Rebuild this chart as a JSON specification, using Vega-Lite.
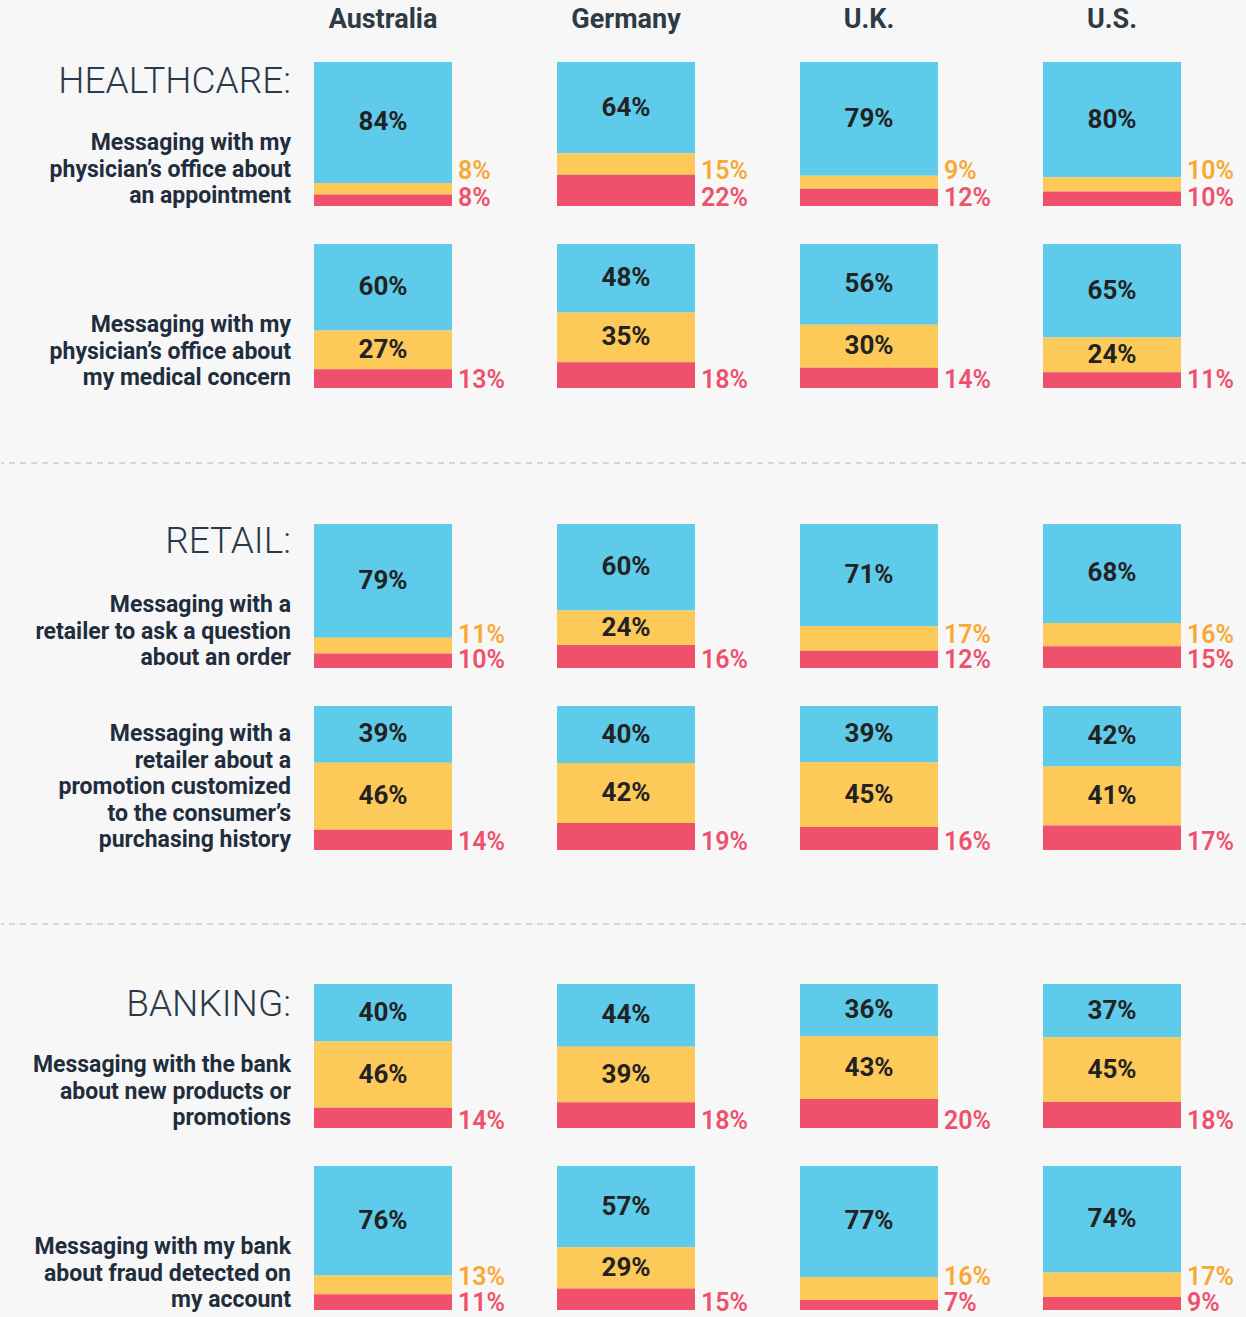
{
  "$schema": "https://vega.github.io/schema/vega-lite/v6.json",
  "background": "#f7f7f7",
  "padding": {"top": 6, "left": 0, "right": 0, "bottom": 0},
  "autosize": {"type": "pad"},
  "config": {"view": {"stroke": null}, "font": "Roboto"},
  "datasets": {
    "questions": [
      {"q": "q1", "category": "HEALTHCARE:", "label": "Messaging with my\nphysician’s office about\nan appointment"},
      {"q": "q2", "category": "", "label": "Messaging with my\nphysician’s office about\nmy medical concern"},
      {"q": "q3", "category": "RETAIL:", "label": "Messaging with a\nretailer to ask a question\nabout an order"},
      {"q": "q4", "category": "", "label": "Messaging with a\nretailer about a\npromotion customized\nto the consumer’s\npurchasing history"},
      {"q": "q5", "category": "BANKING:", "label": "Messaging with the bank\nabout new products or\npromotions"},
      {"q": "q6", "category": "", "label": "Messaging with my bank\nabout fraud detected on\nmy account"}
    ],
    "separator": [{"section_break": 0}],
    "survey": [
      {"q": "q1", "country": "Australia", "Likely": 0.84, "Neutral": 0.08, "Unlikely": 0.08},
      {"q": "q1", "country": "Germany", "Likely": 0.64, "Neutral": 0.15, "Unlikely": 0.22},
      {"q": "q1", "country": "U.K.", "Likely": 0.79, "Neutral": 0.09, "Unlikely": 0.12},
      {"q": "q1", "country": "U.S.", "Likely": 0.80, "Neutral": 0.10, "Unlikely": 0.10},
      {"q": "q2", "country": "Australia", "Likely": 0.60, "Neutral": 0.27, "Unlikely": 0.13},
      {"q": "q2", "country": "Germany", "Likely": 0.48, "Neutral": 0.35, "Unlikely": 0.18},
      {"q": "q2", "country": "U.K.", "Likely": 0.56, "Neutral": 0.30, "Unlikely": 0.14},
      {"q": "q2", "country": "U.S.", "Likely": 0.65, "Neutral": 0.24, "Unlikely": 0.11},
      {"q": "q3", "country": "Australia", "Likely": 0.79, "Neutral": 0.11, "Unlikely": 0.10},
      {"q": "q3", "country": "Germany", "Likely": 0.60, "Neutral": 0.24, "Unlikely": 0.16},
      {"q": "q3", "country": "U.K.", "Likely": 0.71, "Neutral": 0.17, "Unlikely": 0.12},
      {"q": "q3", "country": "U.S.", "Likely": 0.68, "Neutral": 0.16, "Unlikely": 0.15},
      {"q": "q4", "country": "Australia", "Likely": 0.39, "Neutral": 0.46, "Unlikely": 0.14},
      {"q": "q4", "country": "Germany", "Likely": 0.40, "Neutral": 0.42, "Unlikely": 0.19},
      {"q": "q4", "country": "U.K.", "Likely": 0.39, "Neutral": 0.45, "Unlikely": 0.16},
      {"q": "q4", "country": "U.S.", "Likely": 0.42, "Neutral": 0.41, "Unlikely": 0.17},
      {"q": "q5", "country": "Australia", "Likely": 0.40, "Neutral": 0.46, "Unlikely": 0.14},
      {"q": "q5", "country": "Germany", "Likely": 0.44, "Neutral": 0.39, "Unlikely": 0.18},
      {"q": "q5", "country": "U.K.", "Likely": 0.36, "Neutral": 0.43, "Unlikely": 0.20},
      {"q": "q5", "country": "U.S.", "Likely": 0.37, "Neutral": 0.45, "Unlikely": 0.18},
      {"q": "q6", "country": "Australia", "Likely": 0.76, "Neutral": 0.13, "Unlikely": 0.11},
      {"q": "q6", "country": "Germany", "Likely": 0.57, "Neutral": 0.29, "Unlikely": 0.15},
      {"q": "q6", "country": "U.K.", "Likely": 0.77, "Neutral": 0.16, "Unlikely": 0.07},
      {"q": "q6", "country": "U.S.", "Likely": 0.74, "Neutral": 0.17, "Unlikely": 0.09}
    ]
  },
  "spacing": 59,
  "bounds": "full",
  "vconcat": [
    {
      "data": {"name": "survey"},
      "transform": [
        {"filter": {"field": "q", "oneOf": ["q1", "q2"]}},
        {"fold": ["Likely", "Neutral", "Unlikely"], "as": ["segment", "pct"]},
        {"lookup": "q", "from": {"data": {"name": "questions"}, "key": "q", "fields": ["category", "label"]}}
      ],
      "facet": {"row": {"field": "q", "type": "nominal", "header": null}},
      "spacing": 38,
      "bounds": "flush",
      "spec": {
        "width": 1246,
        "height": 144,
        "encoding": {
          "x": {"field": "country", "type": "nominal", "sort": ["Australia", "Germany", "U.K.", "U.S."], "axis": null,
                "scale": {"type": "band", "paddingInner": 0.432, "paddingOuter": 0, "range": [313, 1180]}}
        },
        "layer": [
          {
            "mark": {"type": "bar"},
            "encoding": {
              "y": {"field": "pct", "type": "quantitative", "stack": "normalize", "axis": null, "scale": {"domain": [0, 1], "nice": false}},
              "color": {"field": "segment", "type": "nominal", "legend": null, "scale": {"domain": ["Likely", "Neutral", "Unlikely"], "range": ["#5ecbea", "#fdc959", "#ef506b"]}},
              "order": {"field": "segment", "sort": "descending"}
            }
          },
          {
            "mark": {"type": "text", "fontSize": 26, "fontWeight": "bold", "color": "#222222", "baseline": "middle"},
            "encoding": {
              "y": {"field": "pct", "type": "quantitative", "stack": "normalize", "bandPosition": 0.5},
              "detail": {"field": "segment"},
              "order": {"field": "segment", "sort": "descending"},
              "text": {"field": "pct", "type": "quantitative", "format": ".0%", "condition": {"test": "datum.segment === 'Unlikely' || (datum.segment === 'Neutral' && datum.pct < 0.2)", "value": ""}}
            }
          },
          {
            "transform": [{"filter": "datum.segment === 'Unlikely'"}],
            "mark": {"type": "text", "fontSize": 25, "fontWeight": 600, "color": "#ef506b", "align": "left", "baseline": "middle", "dx": 6, "dy": -8},
            "encoding": {
              "x": {"field": "country", "type": "nominal", "bandPosition": 1},
              "y": {"datum": 0, "type": "quantitative"},
              "text": {"field": "pct", "type": "quantitative", "format": ".0%"}
            }
          },
          {
            "transform": [{"filter": "datum.segment === 'Neutral' && datum.pct < 0.2"}],
            "mark": {"type": "text", "fontSize": 25, "fontWeight": 600, "color": "#f9a833", "align": "left", "baseline": "middle", "dx": 6, "dy": -35},
            "encoding": {
              "x": {"field": "country", "type": "nominal", "bandPosition": 1},
              "y": {"datum": 0, "type": "quantitative"},
              "text": {"field": "pct", "type": "quantitative", "format": ".0%"}
            }
          },
          {
            "transform": [{"filter": "datum.country === 'Australia' && datum.segment === 'Likely'"}],
            "mark": {"type": "text", "fontSize": 23, "fontWeight": "bold", "color": "#1f2d3d", "align": "right", "baseline": "bottom", "lineBreak": "\n", "lineHeight": 26.5, "dx": -23, "dy": -51},
            "encoding": {
              "x": {"field": "country", "type": "nominal", "bandPosition": 0},
              "y": {"datum": 0, "type": "quantitative"},
              "text": {"field": "label", "type": "nominal"}
            }
          },
          {
            "transform": [{"filter": "datum.country === 'Australia' && datum.segment === 'Likely' && datum.category !== ''"}],
            "mark": {"type": "text", "fontSize": 37, "fontWeight": 300, "color": "#2b3a4a", "align": "right", "baseline": "alphabetic", "dx": -23, "dy": 31},
            "encoding": {
              "x": {"field": "country", "type": "nominal", "bandPosition": 0},
              "y": {"datum": 1, "type": "quantitative"},
              "text": {"field": "category", "type": "nominal"}
            }
          },
          {
            "transform": [{"filter": "datum.q === 'q1' && datum.segment === 'Likely'"}],
            "mark": {"type": "text", "fontSize": 27, "fontWeight": "bold", "color": "#2e3a44", "align": "center", "baseline": "alphabetic", "dy": -34},
            "encoding": {
              "x": {"field": "country", "type": "nominal", "bandPosition": 0.5},
              "y": {"datum": 1, "type": "quantitative"},
              "text": {"field": "country", "type": "nominal"}
            }
          }
        ]
      }
    },
    {
      "data": {"name": "separator"},
      "width": 1246,
      "height": 10,
      "mark": {"type": "rule", "strokeDash": [6, 5], "color": "#d6d6d6", "strokeWidth": 2},
      "encoding": {
        "y": {"field": "section_break", "type": "quantitative", "scale": {"domain": [0, 1]}, "axis": null}
      }
    },
    {
      "data": {"name": "survey"},
      "transform": [
        {"filter": {"field": "q", "oneOf": ["q3", "q4"]}},
        {"fold": ["Likely", "Neutral", "Unlikely"], "as": ["segment", "pct"]},
        {"lookup": "q", "from": {"data": {"name": "questions"}, "key": "q", "fields": ["category", "label"]}}
      ],
      "facet": {"row": {"field": "q", "type": "nominal", "header": null}},
      "spacing": 38,
      "bounds": "flush",
      "spec": {
        "width": 1246,
        "height": 144,
        "encoding": {
          "x": {"field": "country", "type": "nominal", "sort": ["Australia", "Germany", "U.K.", "U.S."], "axis": null,
                "scale": {"type": "band", "paddingInner": 0.432, "paddingOuter": 0, "range": [313, 1180]}}
        },
        "layer": [
          {
            "mark": {"type": "bar"},
            "encoding": {
              "y": {"field": "pct", "type": "quantitative", "stack": "normalize", "axis": null, "scale": {"domain": [0, 1], "nice": false}},
              "color": {"field": "segment", "type": "nominal", "legend": null, "scale": {"domain": ["Likely", "Neutral", "Unlikely"], "range": ["#5ecbea", "#fdc959", "#ef506b"]}},
              "order": {"field": "segment", "sort": "descending"}
            }
          },
          {
            "mark": {"type": "text", "fontSize": 26, "fontWeight": "bold", "color": "#222222", "baseline": "middle"},
            "encoding": {
              "y": {"field": "pct", "type": "quantitative", "stack": "normalize", "bandPosition": 0.5},
              "detail": {"field": "segment"},
              "order": {"field": "segment", "sort": "descending"},
              "text": {"field": "pct", "type": "quantitative", "format": ".0%", "condition": {"test": "datum.segment === 'Unlikely' || (datum.segment === 'Neutral' && datum.pct < 0.2)", "value": ""}}
            }
          },
          {
            "transform": [{"filter": "datum.segment === 'Unlikely'"}],
            "mark": {"type": "text", "fontSize": 25, "fontWeight": 600, "color": "#ef506b", "align": "left", "baseline": "middle", "dx": 6, "dy": -8},
            "encoding": {
              "x": {"field": "country", "type": "nominal", "bandPosition": 1},
              "y": {"datum": 0, "type": "quantitative"},
              "text": {"field": "pct", "type": "quantitative", "format": ".0%"}
            }
          },
          {
            "transform": [{"filter": "datum.segment === 'Neutral' && datum.pct < 0.2"}],
            "mark": {"type": "text", "fontSize": 25, "fontWeight": 600, "color": "#f9a833", "align": "left", "baseline": "middle", "dx": 6, "dy": -33},
            "encoding": {
              "x": {"field": "country", "type": "nominal", "bandPosition": 1},
              "y": {"datum": 0, "type": "quantitative"},
              "text": {"field": "pct", "type": "quantitative", "format": ".0%"}
            }
          },
          {
            "transform": [{"filter": "datum.q === 'q3' && datum.country === 'Australia' && datum.segment === 'Likely'"}],
            "mark": {"type": "text", "fontSize": 23, "fontWeight": "bold", "color": "#1f2d3d", "align": "right", "baseline": "bottom", "lineBreak": "\n", "lineHeight": 26.5, "dx": -23, "dy": -51},
            "encoding": {
              "x": {"field": "country", "type": "nominal", "bandPosition": 0},
              "y": {"datum": 0, "type": "quantitative"},
              "text": {"field": "label", "type": "nominal"}
            }
          },
          {
            "transform": [{"filter": "datum.q === 'q4' && datum.country === 'Australia' && datum.segment === 'Likely'"}],
            "mark": {"type": "text", "fontSize": 23, "fontWeight": "bold", "color": "#1f2d3d", "align": "right", "baseline": "bottom", "lineBreak": "\n", "lineHeight": 26.5, "dx": -23, "dy": -104},
            "encoding": {
              "x": {"field": "country", "type": "nominal", "bandPosition": 0},
              "y": {"datum": 0, "type": "quantitative"},
              "text": {"field": "label", "type": "nominal"}
            }
          },
          {
            "transform": [{"filter": "datum.country === 'Australia' && datum.segment === 'Likely' && datum.category !== ''"}],
            "mark": {"type": "text", "fontSize": 37, "fontWeight": 300, "color": "#2b3a4a", "align": "right", "baseline": "alphabetic", "dx": -23, "dy": 29},
            "encoding": {
              "x": {"field": "country", "type": "nominal", "bandPosition": 0},
              "y": {"datum": 1, "type": "quantitative"},
              "text": {"field": "category", "type": "nominal"}
            }
          }
        ]
      }
    },
    {
      "data": {"name": "separator"},
      "width": 1246,
      "height": 10,
      "mark": {"type": "rule", "strokeDash": [6, 5], "color": "#d6d6d6", "strokeWidth": 2},
      "encoding": {
        "y": {"field": "section_break", "type": "quantitative", "scale": {"domain": [0, 1]}, "axis": null}
      }
    },
    {
      "data": {"name": "survey"},
      "transform": [
        {"filter": {"field": "q", "oneOf": ["q5", "q6"]}},
        {"fold": ["Likely", "Neutral", "Unlikely"], "as": ["segment", "pct"]},
        {"lookup": "q", "from": {"data": {"name": "questions"}, "key": "q", "fields": ["category", "label"]}}
      ],
      "facet": {"row": {"field": "q", "type": "nominal", "header": null}},
      "spacing": 38,
      "bounds": "flush",
      "spec": {
        "width": 1246,
        "height": 144,
        "encoding": {
          "x": {"field": "country", "type": "nominal", "sort": ["Australia", "Germany", "U.K.", "U.S."], "axis": null,
                "scale": {"type": "band", "paddingInner": 0.432, "paddingOuter": 0, "range": [313, 1180]}}
        },
        "layer": [
          {
            "mark": {"type": "bar"},
            "encoding": {
              "y": {"field": "pct", "type": "quantitative", "stack": "normalize", "axis": null, "scale": {"domain": [0, 1], "nice": false}},
              "color": {"field": "segment", "type": "nominal", "legend": null, "scale": {"domain": ["Likely", "Neutral", "Unlikely"], "range": ["#5ecbea", "#fdc959", "#ef506b"]}},
              "order": {"field": "segment", "sort": "descending"}
            }
          },
          {
            "mark": {"type": "text", "fontSize": 26, "fontWeight": "bold", "color": "#222222", "baseline": "middle"},
            "encoding": {
              "y": {"field": "pct", "type": "quantitative", "stack": "normalize", "bandPosition": 0.5},
              "detail": {"field": "segment"},
              "order": {"field": "segment", "sort": "descending"},
              "text": {"field": "pct", "type": "quantitative", "format": ".0%", "condition": {"test": "datum.segment === 'Unlikely' || (datum.segment === 'Neutral' && datum.pct < 0.2)", "value": ""}}
            }
          },
          {
            "transform": [{"filter": "datum.segment === 'Unlikely'"}],
            "mark": {"type": "text", "fontSize": 25, "fontWeight": 600, "color": "#ef506b", "align": "left", "baseline": "middle", "dx": 6, "dy": -7},
            "encoding": {
              "x": {"field": "country", "type": "nominal", "bandPosition": 1},
              "y": {"datum": 0, "type": "quantitative"},
              "text": {"field": "pct", "type": "quantitative", "format": ".0%"}
            }
          },
          {
            "transform": [{"filter": "datum.segment === 'Neutral' && datum.pct < 0.2"}],
            "mark": {"type": "text", "fontSize": 25, "fontWeight": 600, "color": "#f9a833", "align": "left", "baseline": "middle", "dx": 6, "dy": -33},
            "encoding": {
              "x": {"field": "country", "type": "nominal", "bandPosition": 1},
              "y": {"datum": 0, "type": "quantitative"},
              "text": {"field": "pct", "type": "quantitative", "format": ".0%"}
            }
          },
          {
            "transform": [{"filter": "datum.country === 'Australia' && datum.segment === 'Likely'"}],
            "mark": {"type": "text", "fontSize": 23, "fontWeight": "bold", "color": "#1f2d3d", "align": "right", "baseline": "bottom", "lineBreak": "\n", "lineHeight": 26.5, "dx": -23, "dy": -51},
            "encoding": {
              "x": {"field": "country", "type": "nominal", "bandPosition": 0},
              "y": {"datum": 0, "type": "quantitative"},
              "text": {"field": "label", "type": "nominal"}
            }
          },
          {
            "transform": [{"filter": "datum.country === 'Australia' && datum.segment === 'Likely' && datum.category !== ''"}],
            "mark": {"type": "text", "fontSize": 37, "fontWeight": 300, "color": "#2b3a4a", "align": "right", "baseline": "alphabetic", "dx": -23, "dy": 32},
            "encoding": {
              "x": {"field": "country", "type": "nominal", "bandPosition": 0},
              "y": {"datum": 1, "type": "quantitative"},
              "text": {"field": "category", "type": "nominal"}
            }
          }
        ]
      }
    }
  ]
}
